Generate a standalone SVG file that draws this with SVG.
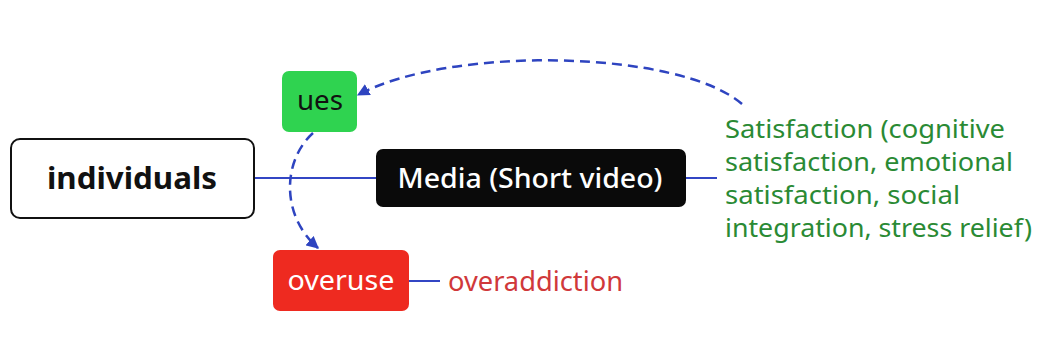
<svg xmlns="http://www.w3.org/2000/svg" width="1041" height="348" viewBox="0 0 1041 348">
<style>
text{font-family:"Noto Sans","Open Sans","Liberation Sans",sans-serif;}
.solid{stroke:#3346c4;stroke-width:2;fill:none;}
.dash{stroke:#2e44c0;stroke-width:2.5;fill:none;stroke-dasharray:10 6;}
</style>
<defs>
<marker id="arr" viewBox="0 0 10 10" refX="9" refY="5" markerWidth="5" markerHeight="5" orient="auto" markerUnits="strokeWidth">
<path d="M0,0 L10,5 L0,10 z" fill="#2e44c0"/>
</marker>
</defs>
<rect width="1041" height="348" fill="#ffffff"/>
<g id="connectors">
<line class="solid" x1="254" y1="178" x2="376" y2="178"/>
<line class="solid" x1="686" y1="178" x2="717" y2="178"/>
<line class="solid" x1="409" y1="281" x2="440" y2="281"/>
<path class="dash" d="M742,104 C680,50 450,45 358,95" marker-end="url(#arr)"/>
<path class="dash" d="M313,133 C283,160 280,215 318,248" marker-end="url(#arr)"/>
</g>
<g id="individuals">
<rect x="11" y="139" width="243" height="79" rx="9" fill="#ffffff" stroke="#111" stroke-width="2"/>
<text x="132" y="189" font-size="31" font-weight="bold" text-anchor="middle" fill="#111" textLength="170" lengthAdjust="spacingAndGlyphs">individuals</text>
</g>
<g id="ues">
<rect x="282" y="71" width="75" height="61" rx="7" fill="#2fd350"/>
<text x="320" y="110" font-size="28" text-anchor="middle" fill="#111" textLength="46" lengthAdjust="spacingAndGlyphs">ues</text>
</g>
<g id="media">
<rect x="376" y="149" width="310" height="58" rx="7" fill="#0a0a0a"/>
<text x="530" y="188" font-size="27" font-weight="500" text-anchor="middle" fill="#ffffff" textLength="265" lengthAdjust="spacingAndGlyphs">Media (Short video)</text>
</g>
<g id="overuse">
<rect x="273" y="250" width="136" height="61" rx="7" fill="#ee2a20"/>
<text x="341" y="290" font-size="28" text-anchor="middle" fill="#ffffff" textLength="107" lengthAdjust="spacingAndGlyphs">overuse</text>
</g>
<g id="overaddiction">
<text x="448" y="291" font-size="27" fill="#d0383a" textLength="175" lengthAdjust="spacingAndGlyphs">overaddiction</text>
</g>
<g id="satisfaction" fill="#2a8a34" font-size="26">
<text x="725" y="138" textLength="280" lengthAdjust="spacingAndGlyphs">Satisfaction (cognitive</text>
<text x="725" y="171" textLength="288" lengthAdjust="spacingAndGlyphs">satisfaction, emotional</text>
<text x="725" y="204" textLength="235" lengthAdjust="spacingAndGlyphs">satisfaction, social</text>
<text x="725" y="237" textLength="307" lengthAdjust="spacingAndGlyphs">integration, stress relief)</text>
</g>
</svg>
